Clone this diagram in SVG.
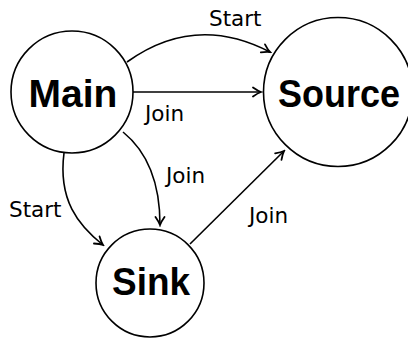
<svg xmlns="http://www.w3.org/2000/svg" width="408" height="341" viewBox="0 0 408 341">
<style>
.node{fill:#fff;stroke:#000;stroke-width:1.6}
.big{font-family:"Liberation Sans",Arial,sans-serif;font-weight:bold;font-size:39px;text-anchor:middle;fill:#000}
.lbl{font-family:"DejaVu Sans",sans-serif;font-size:21.5px;fill:#000}
.edge{fill:none;stroke:#000;stroke-width:1.6}
</style>
<defs>
<marker id="arr" markerUnits="userSpaceOnUse" viewBox="-10 -6 12 12" refX="0" refY="0" markerWidth="12" markerHeight="12" orient="auto">
<path d="M-8,-4.5 Q-3,-1 0,0 Q-3,1 -8,4.5" fill="none" stroke="#000" stroke-width="1.8" stroke-linecap="round"/>
</marker>
</defs>
<g id="connectors">
<path class="edge" d="M127,62 Q195,13 270,52" marker-end="url(#arr)"/>
<path class="edge" d="M133,92 L261,92" marker-end="url(#arr)"/>
<path class="edge" d="M123,132 Q160,162 160,225" marker-end="url(#arr)"/>
<path class="edge" d="M64,153 C58,200 78,225 103,245" marker-end="url(#arr)"/>
<path class="edge" d="M190,244 L284,151" marker-end="url(#arr)"/>
<text class="lbl" x="209" y="26">Start</text>
<text class="lbl" x="145" y="121">Join</text>
<text class="lbl" x="166" y="183">Join</text>
<text class="lbl" x="9" y="217">Start</text>
<text class="lbl" x="249" y="223">Join</text>
</g>
<g id="main">
<circle class="node" cx="72" cy="92" r="61"/>
<text class="big" x="73" y="107">Main</text>
</g>
<g id="source">
<circle class="node" cx="338" cy="92" r="74.5"/>
<text class="big" x="339" y="107" textLength="122" lengthAdjust="spacingAndGlyphs">Source</text>
</g>
<g id="sink">
<circle class="node" cx="150" cy="283" r="54"/>
<text class="big" x="151" y="295" textLength="78" lengthAdjust="spacingAndGlyphs">Sink</text>
</g>
</svg>
